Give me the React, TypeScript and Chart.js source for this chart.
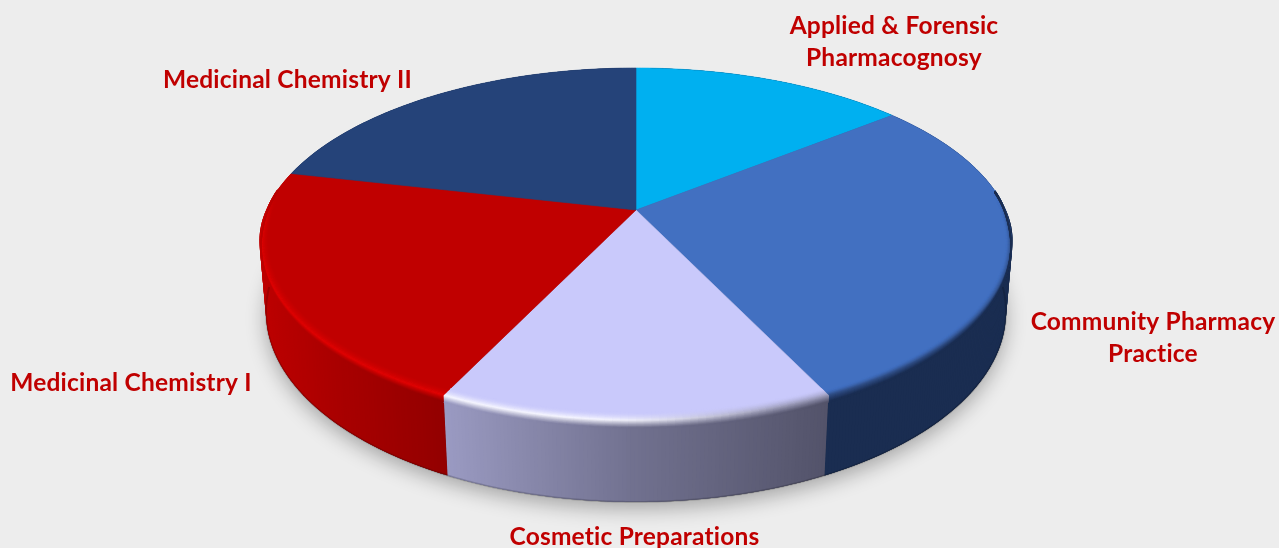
import React, { useEffect, useRef } from "react";
import { Chart, registerables } from "chart.js";

Chart.register(...registerables);

// ---- data ----
const categories = [
  "Applied & Forensic Pharmacognosy",
  "Community Pharmacy Practice",
  "Cosmetic Preparations",
  "Medicinal Chemistry I",
  "Medicinal Chemistry II",
];
const values = [2, 4, 2, 3, 3];

// ---- styles ----
const topColors = ["#00b0f0", "#4270c1", "#c9c9fb", "#c00000", "#254379"];
const W = 1279;
const H = 548;
const BG = "#ededed";
const LABEL = "#c00000";
const labelLines = [
  ["Applied & Forensic", "Pharmacognosy"],
  ["Community Pharmacy", "Practice"],
  ["Cosmetic Preparations"],
  ["Medicinal Chemistry I"],
  ["Medicinal Chemistry II"],
];
const labelCenters = [
  [894, 26],
  [1153, 322],
  [634.5, 537],
  [131, 383],
  [287.5, 80],
];
const lineGap = 32;

// perspective planes: ellipse centre, radii and tilt
const topPlane = { cx: 636, cy: 247, rx: 378, ry: 179, k: 0.2067 };
const basePlane = { cx: 636, cy: 312, rx: 370, ry: 190, k: 0.18 };

type Plane = typeof topPlane;
type RGB = [number, number, number];

function project(p: Plane, angle: number, r = 1): [number, number] {
  const u = Math.cos(angle) * r;
  const v = Math.sin(angle) * r;
  const w = 1 - p.k * v;
  const s = Math.sqrt(1 - p.k * p.k);
  return [p.cx + (p.rx * s * u) / w, p.cy - p.ry * p.k + (p.ry * s * s * v) / w];
}
const lerp = (a: number, b: number, t: number) => a + (b - a) * t;
const clamp = (t: number) => Math.max(0, Math.min(1, t));
const smooth = (t: number) => {
  const c = clamp(t);
  return c * c * (3 - 2 * c);
};
const rgb = (c: RGB) => `rgb(${Math.round(c[0])},${Math.round(c[1])},${Math.round(c[2])})`;
const mix = (a: RGB, b: RGB, t: number): RGB => [
  lerp(a[0], b[0], t),
  lerp(a[1], b[1], t),
  lerp(a[2], b[2], t),
];
const hex = (h: string): RGB => [
  parseInt(h.slice(1, 3), 16),
  parseInt(h.slice(3, 5), 16),
  parseInt(h.slice(5, 7), 16),
];

const navyWall: RGB = [26, 45, 81];
const cosmeticWall: RGB[] = [
  [155, 155, 195],
  [113, 113, 143],
  [83, 83, 106],
];
const redWall: RGB[] = [
  [190, 0, 0],
  [168, 0, 0],
  [147, 0, 0],
];

function wallAt(i: number, x: number): RGB {
  if (i === 2) {
    const t = clamp((x - 443) / 385);
    return t < 0.5
      ? mix(cosmeticWall[0], cosmeticWall[1], t * 2)
      : mix(cosmeticWall[1], cosmeticWall[2], (t - 0.5) * 2);
  }
  if (i === 3) {
    const t = clamp((x - 258) / 188);
    return t < 0.45
      ? mix(redWall[0], redWall[1], t / 0.45)
      : mix(redWall[1], redWall[2], (t - 0.45) / 0.55);
  }
  return navyWall;
}

// highlight colour along the rim for each slice
function ridge(i: number, deg: number): RGB | null {
  if (i === 1) return [48, 78, 134];
  if (i === 2) {
    const t = smooth((deg - 156) / 30);
    return mix([150, 150, 180], [246, 246, 255], t);
  }
  if (i === 3) return [224, 4, 4];
  return null;
}

const frontness = (a: number) => smooth((Math.sin(a) + 0.12) / 0.2);
const rimDrop = (a: number) => frontness(a) * (0.004 + 0.016 * Math.max(0, Math.sin(a)));
const wallDrop = (a: number) => 0.02 * smooth(Math.sin(a) / 0.7);

const pie3d = {
  id: "pie3d",
  beforeDatasetsDraw(chart: any) {
    const ctx: CanvasRenderingContext2D = chart.ctx;
    const arcs = chart.getDatasetMeta(0).data;
    const STEP = Math.PI / 360;

    const sample = (p: Plane, a0: number, a1: number, r: (a: number) => number = () => 1) => {
      const pts: [number, number][] = [];
      const n = Math.max(2, Math.ceil((a1 - a0) / STEP));
      for (let j = 0; j <= n; j++) {
        const a = lerp(a0, a1, j / n);
        pts.push(project(p, a, r(a)));
      }
      return pts;
    };

    ctx.save();
    // soft shadow under the disc
    ctx.save();
    ctx.shadowColor = "rgba(0,0,0,0.3)";
    ctx.shadowBlur = 20;
    ctx.shadowOffsetY = 7;
    ctx.fillStyle = "#444";
    ctx.beginPath();
    sample(basePlane, 0, Math.PI * 2).forEach(([x, y], j) =>
      j ? ctx.lineTo(x, y) : ctx.moveTo(x, y)
    );
    ctx.closePath();
    ctx.fill();
    ctx.restore();

    // walls: one quad per small step of the rim, overlapping the next one
    arcs.forEach((arc: any, i: number) => {
      const up = sample(topPlane, arc.startAngle, arc.endAngle, (a) => 1 - wallDrop(a));
      const lo = sample(basePlane, arc.startAngle, arc.endAngle);
      for (let j = 0; j + 1 < up.length; j++) {
        const col = rgb(wallAt(i, (up[j][0] + lo[j][0]) / 2));
        const k = Math.min(j + 3, up.length - 1);
        ctx.fillStyle = col;
        ctx.beginPath();
        ctx.moveTo(up[j][0], up[j][1]);
        ctx.lineTo(up[k][0], up[k][1]);
        ctx.lineTo(lo[k][0], lo[k][1]);
        ctx.lineTo(lo[j][0], lo[j][1]);
        ctx.closePath();
        ctx.fill();
      }
    });
    // dark line at the foot of the wall
    ctx.lineWidth = 2;
    ctx.strokeStyle = "rgba(0,0,0,0.16)";
    ctx.beginPath();
    sample(basePlane, 0.05, Math.PI - 0.05).forEach(([x, y], j) =>
      j ? ctx.lineTo(x, y) : ctx.moveTo(x, y)
    );
    ctx.stroke();

    // top faces
    arcs.forEach((arc: any) => {
      const pts = sample(topPlane, arc.startAngle, arc.endAngle, (a) => 1 - rimDrop(a));
      const apex = project(topPlane, 0, 0);
      ctx.beginPath();
      ctx.moveTo(apex[0], apex[1]);
      pts.forEach(([x, y]) => ctx.lineTo(x, y));
      ctx.closePath();
      ctx.fillStyle = arc.options.backgroundColor;
      ctx.strokeStyle = arc.options.backgroundColor;
      ctx.lineWidth = 0.6;
      ctx.fill();
      ctx.stroke();
    });

    // rolled edge between the top and the wall
    ctx.lineCap = "butt";
    arcs.forEach((arc: any, i: number) => {
      const a0 = arc.startAngle;
      const a1 = arc.endAngle;
      const n = Math.ceil((a1 - a0) / (STEP * 2));
      const layers = 26;
      const base = hex(topColors[i]);
      const insetScale = i === 1 ? 0.6 : 1;
      for (let l = 0; l < layers; l++) {
        const s = lerp(-1, 1, l / (layers - 1));
        for (let j = 0; j < n; j++) {
          const t0 = lerp(a0, a1, j / n);
          const t1 = lerp(a0, a1, (j + 1) / n);
          const mid = (t0 + t1) / 2;
          const deg = ((mid + Math.PI / 2) * 180) / Math.PI;
          const c = ridge(i, deg);
          if (!c) continue;
          const fade = frontness(mid);
          if (fade <= 0) continue;
          const pos = (ang: number): [number, number] => {
            const rim = 1 - rimDrop(ang);
            const v = Math.max(0, Math.sin(ang));
            if (s <= 0) return project(topPlane, ang, rim + s * insetScale * (0.018 + 0.012 * v));
            const a = project(topPlane, ang, rim);
            const b = project(basePlane, ang);
            const f = s * (0.03 + 0.06 * v);
            return [lerp(a[0], b[0], f), lerp(a[1], b[1], f)];
          };
          const p0 = pos(t0);
          const p1 = pos(t1);
          const sharp = s <= 0 ? Math.pow(1 + s, 1.7) : Math.pow(1 - s, 1.1);
          const under = s <= 0 ? base : wallAt(i, p0[0]);
          ctx.strokeStyle = rgb(mix(under, c, sharp * fade));
          ctx.lineWidth = 1.4;
          ctx.beginPath();
          ctx.moveTo(p0[0], p0[1]);
          ctx.lineTo(p1[0], p1[1]);
          ctx.stroke();
        }
      }
    });

    // labels
    ctx.fillStyle = LABEL;
    ctx.font = "bold 24.5px Lato";
    (ctx as any).letterSpacing = "0.2px";
    ctx.textAlign = "center";
    ctx.textBaseline = "middle";
    labelLines.forEach((lines, i) => {
      lines.forEach((line, j) => {
        ctx.fillText(line, labelCenters[i][0], labelCenters[i][1] + j * lineGap);
      });
    });
    ctx.restore();
    return false;
  },
};

export default function App() {
  const ref = useRef<HTMLCanvasElement | null>(null);
  useEffect(() => {
    document.body.style.margin = "0";
    document.body.style.background = BG;
    const chart = new Chart(ref.current as HTMLCanvasElement, {
      type: "pie",
      data: {
        labels: categories,
        datasets: [{ data: values, backgroundColor: topColors, borderWidth: 0 }],
      },
      options: {
        responsive: false,
        animation: false,
        plugins: { legend: { display: false }, tooltip: { enabled: false } },
      },
      plugins: [pie3d as any],
    });
    return () => chart.destroy();
  }, []);
  return (
    <div style={{ width: W, height: H, background: BG, overflow: "hidden" }}>
      <canvas ref={ref} width={W} height={H} style={{ display: "block", filter: "blur(0.45px)" }} />
    </div>
  );
}
